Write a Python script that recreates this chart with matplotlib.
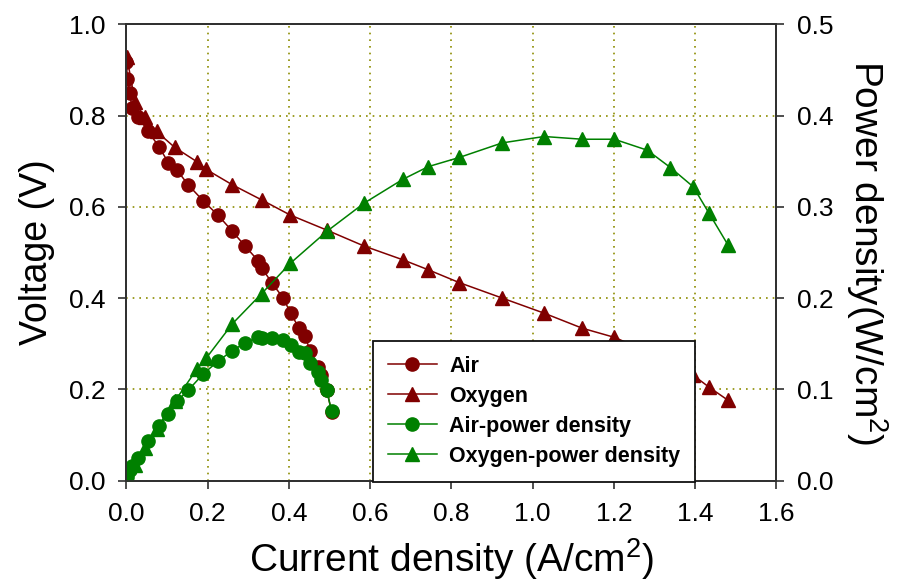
import matplotlib
matplotlib.use("Agg")
import matplotlib.pyplot as plt

plt.rcParams['font.family'] = ['Liberation Sans', 'DejaVu Sans']
plt.rcParams['mathtext.fontset'] = 'custom'
plt.rcParams['mathtext.rm'] = 'Liberation Sans'
plt.rcParams['mathtext.default'] = 'regular'

# ---- data ----
air_x = [0.000, 0.002, 0.009, 0.013, 0.029, 0.054, 0.081, 0.103, 0.124, 0.152, 0.189,
         0.226, 0.259, 0.292, 0.324, 0.334, 0.359, 0.386, 0.404, 0.425, 0.439, 0.453,
         0.472, 0.480, 0.493, 0.505]
air_v = [0.918, 0.881, 0.849, 0.816, 0.796, 0.765, 0.730, 0.697, 0.681, 0.648, 0.613,
         0.581, 0.548, 0.514, 0.482, 0.465, 0.432, 0.400, 0.367, 0.334, 0.317, 0.283,
         0.250, 0.232, 0.198, 0.151]
air_p = [0.002, 0.004, 0.012, 0.016, 0.025, 0.043, 0.060, 0.073, 0.087, 0.099, 0.117,
         0.131, 0.142, 0.151, 0.157, 0.156, 0.156, 0.154, 0.149, 0.141, 0.140, 0.129,
         0.119, 0.110, 0.099, 0.076]

ox_x = [0.001, 0.021, 0.045, 0.074, 0.119, 0.173, 0.196, 0.261, 0.333, 0.403, 0.493,
        0.585, 0.680, 0.743, 0.819, 0.925, 1.028, 1.122, 1.201, 1.282, 1.339, 1.395,
        1.434, 1.481]
ox_v = [0.928, 0.830, 0.796, 0.765, 0.730, 0.699, 0.682, 0.648, 0.615, 0.582, 0.549,
        0.514, 0.484, 0.462, 0.434, 0.400, 0.367, 0.334, 0.314, 0.283, 0.258, 0.231,
        0.205, 0.176]
ox_p = [0.001, 0.017, 0.036, 0.057, 0.087, 0.122, 0.134, 0.172, 0.205, 0.238, 0.273,
        0.304, 0.330, 0.344, 0.354, 0.370, 0.377, 0.374, 0.374, 0.362, 0.343, 0.322,
        0.293, 0.258]

x_ticks = [0.0, 0.2, 0.4, 0.6, 0.8, 1.0, 1.2, 1.4, 1.6]
v_ticks = [0.0, 0.2, 0.4, 0.6, 0.8, 1.0]
p_ticks = [0.0, 0.1, 0.2, 0.3, 0.4, 0.5]

labels = ['Air', 'Oxygen', 'Air-power density', 'Oxygen-power density']

RED = '#800000'
GREEN = '#008000'
GRID = '#8c8c00'
SPINE = '#303030'

fig = plt.figure(figsize=(9.02, 5.82), dpi=100)
ax = fig.add_axes([0.1402, 0.1741, 0.7206, 0.7843])
ax2 = ax.twinx()

ms = 9.5
lw = 1.1
l1, = ax.plot(air_x, air_v, '-o', color=RED, ms=ms, lw=lw, mec=RED, label=labels[0])
l2, = ax.plot(ox_x, ox_v, '-^', color=RED, ms=ms, lw=lw, mec=RED, label=labels[1])
l3, = ax2.plot(air_x, air_p, '-o', color=GREEN, ms=ms, lw=lw, mec=GREEN, label=labels[2])
l4, = ax2.plot(ox_x, ox_p, '-^', color=GREEN, ms=ms, lw=lw, mec=GREEN, label=labels[3])

ax.set_xlim(0, 1.6)
ax.set_ylim(0, 1.0)
ax2.set_ylim(0, 0.5)
ax.set_xticks(x_ticks)
ax.set_xticklabels([f'{t:.1f}' for t in x_ticks])
ax.set_yticks(v_ticks)
ax.set_yticklabels([f'{t:.1f}' for t in v_ticks])
ax2.set_yticks(p_ticks)
ax2.set_yticklabels([f'{t:.1f}' for t in p_ticks])

ax.grid(True, color=GRID, linestyle=(0, (1, 3)), linewidth=1.2)
ax.set_axisbelow(True)

for a in (ax, ax2):
    for s in a.spines.values():
        s.set_color(SPINE)
        s.set_linewidth(1.3)
    a.tick_params(direction='out', length=6, width=1.2, color=SPINE,
                  labelsize=19, pad=9)

ax.set_xlabel(r'Current density (A/cm$^2$)', fontsize=28, labelpad=8)
ax.set_ylabel('Voltage (V)', fontsize=27, labelpad=10)
ax2.set_ylabel(r'Power density(W/cm$^2$)', fontsize=28, rotation=270, labelpad=40)

leg = ax2.legend(handles=[l1, l2, l3, l4], loc='upper left',
                 bbox_to_anchor=(0.3788, 0.3067), borderaxespad=0,
                 prop={'weight': 'bold', 'size': 15.5}, frameon=True, fancybox=False,
                 edgecolor='#101010', framealpha=1, handlelength=2.3,
                 handletextpad=0.55, borderpad=0.7, labelspacing=0.42)
leg.get_frame().set_linewidth(1.3)

fig.savefig('out.png', dpi=100)
